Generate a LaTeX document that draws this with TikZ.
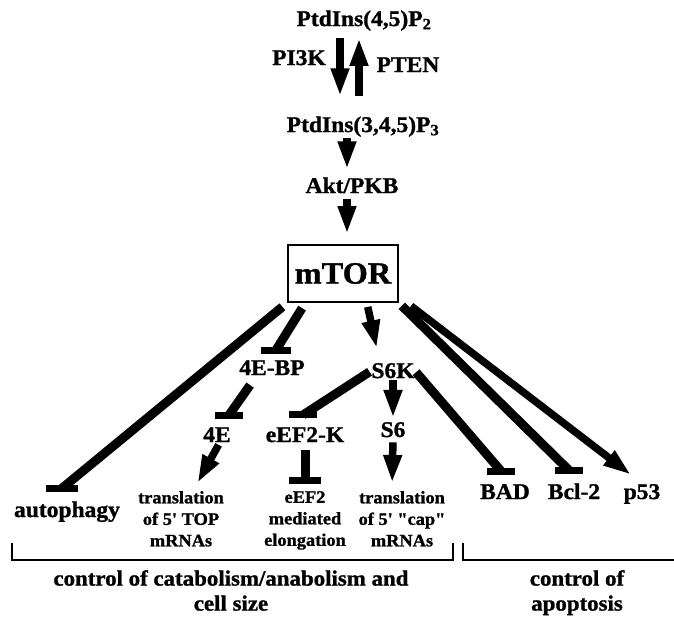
\documentclass[tikz,border=0pt]{standalone}
\usepackage{fontspec}
\newfontfamily\labelfont{Liberation Serif}[FakeStretch=1.05, BoldFeatures={FakeBold=1.2}]
\usetikzlibrary{arrows.meta}

\begin{document}
\begin{tikzpicture}[x=1pt, y=-1pt,
    lbl/.style={font=\labelfont\fontsize{22.4}{26}\selectfont\bfseries, inner sep=0pt, anchor=base},
    note/.style={font=\labelfont\fontsize{17.5}{21.5}\selectfont\bfseries, inner sep=0pt,
      anchor=north, align=center},
    caption/.style={font=\labelfont\fontsize{21.8}{25}\selectfont\bfseries, inner sep=0pt,
      anchor=north, align=center},
    hub/.style={draw, line width=2pt, minimum width=110pt, minimum height=57pt,
      font=\labelfont\fontsize{30.8}{32}\selectfont\bfseries},
    act/.style={line width=7.5pt, -{Triangle[length=28pt, width=17pt]}},
    inh/.style={line width=9pt},
    tbar/.style={line width=7pt},
    brace/.style={line width=2pt}
  ]
    \useasboundingbox (0,0) rectangle (674,622);

    % upstream of mTOR
    \node[lbl] (pip2) at (364,26)  {PtdIns(4,5)P\textsubscript{2}};
    \node[lbl] (pi3k) at (299,65)  {PI3K};
    \node[lbl] (pten) at (408,72)  {PTEN};
    \node[lbl] (pip3) at (363,132) {PtdIns(3,4,5)P\textsubscript{3}};
    \node[lbl] (akt)  at (352,193) {Akt/PKB};
    \node[hub] (mtor) at (343,273.5) {mTOR};

    % targets
    \node[lbl] (bp)     at (272,375) {4E-BP};
    \node[lbl] (s6k)    at (393,378) {S6K};
    \node[lbl] (e4)     at (217,442) {4E};
    \node[lbl] (eef2k)  at (305,442) {eEF2-K};
    \node[lbl] (s6)     at (393,437) {S6};
    \node[lbl] (autoph) at (67,517)  {autophagy};
    \node[lbl] (bad)    at (505,499) {BAD};
    \node[lbl] (bcl)    at (574,499) {Bcl-2};
    \node[lbl] (p53)    at (642,499) {p53};
    \node[note] (top)   at (181,491) {translation\\of 5' TOP\\mRNAs};
    \node[note] (elong) at (305,491) {eEF2\\mediated\\elongation};
    \node[note] (cap)   at (402,491) {translation\\of 5' "cap"\\mRNAs};

    \node[caption] (catab) at (231,570) {control of catabolism/anabolism and\\cell size};
    \node[caption] (apop)  at (577,570) {control of\\apoptosis};

    % bar ends
    \coordinate (autT)   at ([xshift=-5,yshift=13]autoph.north);
    \coordinate (bpT)    at ([xshift=4,yshift=10]bp.north);
    \coordinate (e4T)    at ([xshift=12,yshift=12]e4.north);
    \coordinate (eefT)   at ([xshift=-2,yshift=12]eef2k.north);
    \coordinate (elongT) at ([yshift=11]elong.north);
    \coordinate (badT)   at ([xshift=-4,yshift=13]bad.north);
    \coordinate (bclT)   at ([xshift=-5,yshift=13]bcl.north);

    \draw[act, shorten <=7pt, shorten >=20pt] ([xshift=-24]pip2.south) -- ([xshift=-23]pip3.north);
    \draw[act, shorten <=20pt, shorten >=7pt] ([xshift=-4]pip3.north) -- ([xshift=-5]pip2.south);
    \draw[act, shorten <=1pt, shorten >=8pt] ([xshift=-16]pip3.south) -- ([xshift=-5]akt.north);
    \draw[act, shorten <=6pt, shorten >=10pt] ([xshift=-5]akt.south) -- ([xshift=4]mtor.north);

    \draw[inh, shorten <=6pt] (mtor.south west) -- (autT);
    \draw[inh, shorten <=6pt] (mtor.218) -- (bpT);
    \draw[act, shorten <=4pt, shorten >=15pt] (mtor.-51) -- ([xshift=-13]s6k.north);
    \draw[inh, shorten <=4pt] (mtor.south east) -- (bclT);
    \draw[act, shorten >=15pt] ([xshift=12,yshift=-3]mtor.south east) -- ([xshift=1]p53.north);

    \draw[inh, shorten <=12pt] ([xshift=-15]bp.south) -- (e4T);
    \draw[inh, shorten <=2pt] (s6k.west) -- (eefT);
    \draw[act, shorten <=2pt, shorten >=4pt] (s6k.south) -- (s6.north);
    \draw[inh, shorten <=2pt] (s6k.east) -- (badT);

    \draw[act, shorten <=3pt, shorten >=9pt] ([xshift=3]e4.south) -- ([xshift=12]top.north);
    \draw[inh, shorten <=8pt] (eef2k.south) -- (elongT);
    \draw[act, shorten <=5pt, shorten >=8pt] (s6.south) -- ([xshift=-10]cap.north);

    \draw[tbar] ([xshift=-16]autT) -- ([xshift=16]autT);
    \draw[tbar] ([xshift=-15]bpT) -- ([xshift=15]bpT);
    \draw[tbar] ([xshift=-14]e4T) -- ([xshift=14]e4T);
    \draw[tbar] ([xshift=-14]eefT) -- ([xshift=14]eefT);
    \draw[tbar] ([xshift=-16]elongT) -- ([xshift=16]elongT);
    \draw[tbar] ([xshift=-14]badT) -- ([xshift=14]badT);
    \draw[tbar] ([xshift=-14]bclT) -- ([xshift=14]bclT);

    % brackets
    \draw[brace] (12,543) -- (12,560) -- (453,560) -- (453,543);
    \draw[brace] (463,543) -- (463,560) -- (674,560);
  \end{tikzpicture}
\end{document}
